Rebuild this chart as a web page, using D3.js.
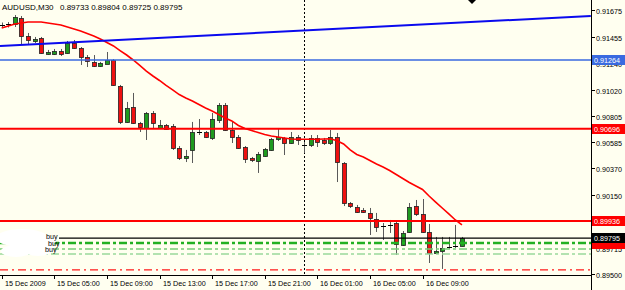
<!DOCTYPE html>
<html>
<head>
<meta charset="utf-8">
<script src="https://cdn.jsdelivr.net/npm/d3@7"></script>
<style>
  body { margin: 0; background: #fffff0; }
  svg { display: block; }
  text { font-family: "Liberation Sans", Arial, sans-serif; font-size: 8px; }
</style>
</head>
<body>
<div id="chart"></div>
<script>
// AUDUSD M30 candles (bar 0 = 15 Dec 01:00)
var symbol = 'AUDUSD,M30';
var lastBar = [0.89733, 0.89804, 0.89725, 0.89795];

var opens = [0.91553, 0.91553, 0.91561, 0.91611, 0.91462, 0.91417, 0.91446, 0.91314, 0.91314, 0.91338,
  0.91322, 0.91404, 0.91363, 0.91285, 0.91248, 0.91214, 0.91239, 0.91264, 0.91050, 0.90753,
  0.90876, 0.90744, 0.90703, 0.90827, 0.90703, 0.90728, 0.90720, 0.90538, 0.90455, 0.90522,
  0.90666, 0.90670, 0.90620, 0.90769, 0.90893, 0.90687, 0.90629, 0.90546, 0.90455, 0.90431,
  0.90472, 0.90522, 0.90612, 0.90621, 0.90579, 0.90629, 0.90571, 0.90563, 0.90621, 0.90604,
  0.90579, 0.90629, 0.90414, 0.90084, 0.90051, 0.90027, 0.90002, 0.89952, 0.89903, 0.89911,
  0.89919, 0.89738, 0.89845, 0.90059, 0.89993, 0.89845, 0.89672, 0.89688, 0.89721, 0.89726,
  lastBar[0]];
var highs = [0.91573, 0.91577, 0.91635, 0.91627, 0.91487, 0.91454, 0.91454, 0.91347, 0.91355, 0.91355,
  0.91421, 0.91429, 0.91371, 0.91305, 0.91305, 0.91248, 0.91330, 0.91272, 0.91058, 0.90918,
  0.90992, 0.90753, 0.90835, 0.90843, 0.90769, 0.90736, 0.90736, 0.90554, 0.90522, 0.90753,
  0.90777, 0.90678, 0.90827, 0.90909, 0.90909, 0.90753, 0.90645, 0.90554, 0.90464, 0.90505,
  0.90538, 0.90621, 0.90703, 0.90629, 0.90670, 0.90645, 0.90587, 0.90645, 0.90645, 0.90621,
  0.90687, 0.90662, 0.90422, 0.90092, 0.90068, 0.90043, 0.90043, 0.90002, 0.89919, 0.89944,
  0.89928, 0.89853, 0.90084, 0.90109, 0.90117, 0.89911, 0.89804, 0.89804, 0.89804, 0.89903,
  lastBar[1]];
var lows = [0.91532, 0.91532, 0.91536, 0.91388, 0.91396, 0.91404, 0.91314, 0.91305, 0.91305, 0.91297,
  0.91314, 0.91355, 0.91223, 0.91206, 0.91206, 0.91206, 0.91231, 0.91050, 0.90736, 0.90744,
  0.90736, 0.90670, 0.90604, 0.90703, 0.90695, 0.90687, 0.90522, 0.90439, 0.90422, 0.90414,
  0.90645, 0.90620, 0.90604, 0.90744, 0.90678, 0.90579, 0.90530, 0.90414, 0.90422, 0.90332,
  0.90464, 0.90513, 0.90596, 0.90480, 0.90571, 0.90563, 0.90497, 0.90546, 0.90546, 0.90563,
  0.90563, 0.90257, 0.90059, 0.90043, 0.90002, 0.90002, 0.89820, 0.89845, 0.89779, 0.89837,
  0.89655, 0.89730, 0.89837, 0.89977, 0.89837, 0.89589, 0.89664, 0.89540, 0.89705, 0.89713,
  lastBar[2]];
var closes = [0.91549, 0.91557, 0.91619, 0.91462, 0.91429, 0.91437, 0.91322, 0.91330, 0.91338, 0.91314,
  0.91404, 0.91363, 0.91289, 0.91252, 0.91214, 0.91239, 0.91268, 0.91058, 0.90753, 0.90868,
  0.90744, 0.90707, 0.90827, 0.90744, 0.90728, 0.90695, 0.90538, 0.90455, 0.90472, 0.90670,
  0.90670, 0.90629, 0.90777, 0.90893, 0.90687, 0.90629, 0.90538, 0.90447, 0.90435, 0.90489,
  0.90530, 0.90612, 0.90625, 0.90579, 0.90629, 0.90604, 0.90563, 0.90621, 0.90592, 0.90579,
  0.90629, 0.90422, 0.90084, 0.90059, 0.90010, 0.90010, 0.89960, 0.89886, 0.89895, 0.89903,
  0.89746, 0.89837, 0.90051, 0.89993, 0.89845, 0.89672, 0.89688, 0.89713, 0.89719, 0.89730,
  lastBar[3]];

// moving average (red curve)
var maValues = [0.91528, 0.91545, 0.91561, 0.91569, 0.91578, 0.91578, 0.91578, 0.91569, 0.91561, 0.91553,
  0.91536, 0.91520, 0.91503, 0.91483, 0.91462, 0.91437, 0.91408, 0.91380, 0.91342, 0.91305,
  0.91264, 0.91219, 0.91173, 0.91132, 0.91095, 0.91054, 0.91017, 0.90979, 0.90951, 0.90926,
  0.90897, 0.90868, 0.90843, 0.90814, 0.90786, 0.90761, 0.90724, 0.90699, 0.90682, 0.90666,
  0.90649, 0.90637, 0.90629, 0.90621, 0.90612, 0.90610, 0.90610, 0.90610, 0.90610, 0.90612,
  0.90614, 0.90598, 0.90571, 0.90522, 0.90484, 0.90464, 0.90435, 0.90406, 0.90381, 0.90352,
  0.90319, 0.90286, 0.90253, 0.90224, 0.90196, 0.90142, 0.90092, 0.90043, 0.89994, 0.89944,
  0.89903];

var timeLabels = ['15 Dec 2009', '15 Dec 05:00', '15 Dec 09:00', '15 Dec 13:00', '15 Dec 17:00',
  '15 Dec 21:00', '16 Dec 01:00', '16 Dec 05:00', '16 Dec 09:00'];
var timeLabelBars = [0, 8, 16, 24, 32, 40, 48, 56, 64];
// 0.89935 sits under the red price box, so it is not printed
var priceTicks = [0.91675, 0.91455, 0.91240, 0.91020, 0.90805, 0.90585, 0.90370, 0.90150, 0.89715, 0.89500];
var daySeparatorBar = 46;

// objects on the chart
var trendBars = [-0.26, 89.6];
var trendPrices = [0.91380, 0.91627];
var supportLevel = 0.91264;
var resistanceLevels = [0.90696, 0.89936];
var bidPrice = 0.89795;
var buyLevels = [0.89754, 0.89705, 0.89663];
var stopLevel = 0.89532;
var hiddenLabelPrice = 0.89742;

var width = 625, height = 290;
var plotRight = 591, plotBottom = 275;

var svg = d3.select('#chart').append('svg')
  .attr('width', width)
  .attr('height', height);

svg.append('rect').attr('width', width).attr('height', height).attr('fill', '#fffff0');

var x = d3.scaleLinear().domain([0, 70]).range([1.7, 461.95]);
var y = d3.scaleLinear().domain([0.89490, 0.91759]).range([plotBottom, 0]);

function txt(tx, ty, str, color, sx) {
  return svg.append('text')
    .attr('transform', 'translate(' + tx + ',' + ty + ') scale(' + (sx || 0.9) + ',1)')
    .attr('fill', color || '#000')
    .text(str);
}

//day separator
var sepX = Math.round(x(daySeparatorBar)) + 0.5;
svg.append('line')
  .attr('x1', sepX).attr('x2', sepX).attr('y1', 0).attr('y2', plotBottom)
  .attr('stroke', '#000').attr('stroke-dasharray', '2,2');

//candles
var bars = d3.range(opens.length).map(function(i) {
  return { i: i, o: opens[i], h: highs[i], l: lows[i], c: closes[i] };
});
var candle = svg.append('g').selectAll('g').data(bars).join('g');
candle.append('line')
  .attr('x1', d => Math.round(x(d.i)) + 0.5)
  .attr('x2', d => Math.round(x(d.i)) + 0.5)
  .attr('y1', d => y(d.h))
  .attr('y2', d => y(d.l))
  .attr('stroke', '#5a5a5a');
candle.filter(d => Math.abs(y(d.o) - y(d.c)) < 1.5)
  .append('line')
  .attr('x1', d => Math.round(x(d.i)) - 2)
  .attr('x2', d => Math.round(x(d.i)) + 3)
  .attr('y1', d => Math.round(y(d.c)) + 0.5)
  .attr('y2', d => Math.round(y(d.c)) + 0.5)
  .attr('stroke', '#000');
candle.filter(d => Math.abs(y(d.o) - y(d.c)) >= 1.5)
  .append('rect')
  .attr('x', d => Math.round(x(d.i)) - 1.5)
  .attr('width', 4)
  .attr('y', d => Math.round(Math.min(y(d.o), y(d.c))) + 0.5)
  .attr('height', d => Math.round(Math.abs(y(d.o) - y(d.c))))
  .attr('fill', d => d.c > d.o ? '#1f9a1f' : '#ee1111')
  .attr('stroke', '#222')
  .attr('stroke-width', 0.8);

//moving average
svg.append('path')
  .datum(maValues)
  .attr('fill', 'none')
  .attr('stroke', '#ff0000')
  .attr('stroke-width', 1.6)
  .attr('d', d3.line().x((d, i) => x(i)).y(d => y(d)));

//trend line
svg.append('line')
  .attr('x1', x(trendBars[0])).attr('y1', y(trendPrices[0]))
  .attr('x2', x(trendBars[1])).attr('y2', y(trendPrices[1]))
  .attr('stroke', '#0a0aee').attr('stroke-width', 2);

//horizontal levels
function hline(p, color, w, dash, x0) {
  svg.append('line')
    .attr('x1', x0 || 0).attr('x2', plotRight)
    .attr('y1', y(p)).attr('y2', y(p))
    .attr('stroke', color).attr('stroke-width', w)
    .attr('stroke-dasharray', dash || null);
}
hline(supportLevel, '#3a6ae0', 1.6);
resistanceLevels.forEach(p => hline(p, '#ff0000', 2));
hline(buyLevels[0], '#22b022', 2.6, '8,3,3,3');
hline(buyLevels[1], '#77cc77', 1.4, '8,3,3,3');
hline(buyLevels[2], '#9ad99a', 1.4, '8,3,3,3');
hline(stopLevel, '#ff1a1a', 1.2, '8,4,2,4');

//smudge over the left part of the trade lines
var blob = [[22, 238, 26, 9], [38, 248, 16, 8], [16, 251, 15, 6], [46, 241, 10, 5]];
blob.forEach(function(b) {
  svg.append('ellipse').attr('cx', b[0]).attr('cy', b[1]).attr('rx', b[2]).attr('ry', b[3]).attr('fill', '#ffffff');
});
hline(bidPrice, '#000', 1.2, null, 59);
txt(46, 239, 'buy');
txt(48, 246, 'buy');
txt(45, 252, 'buy');

//frame
svg.append('line').attr('x1', plotRight + 0.5).attr('x2', plotRight + 0.5)
  .attr('y1', 0).attr('y2', height).attr('stroke', '#000');
svg.append('line').attr('x1', 0).attr('x2', plotRight)
  .attr('y1', plotBottom + 0.5).attr('y2', plotBottom + 0.5).attr('stroke', '#000');

//price axis
priceTicks.forEach(function(p) {
  var py = Math.round(y(p)) + 0.5;
  svg.append('line').attr('x1', plotRight).attr('x2', plotRight + 4)
    .attr('y1', py).attr('y2', py).attr('stroke', '#000');
  txt(596, py + 3, p.toFixed(5));
});

function priceBox(p, color, label) {
  var py = Math.round(y(p));
  svg.append('rect').attr('x', 592).attr('y', py - 5).attr('width', 33).attr('height', 10).attr('fill', color);
  if (label) txt(594, py + 3, p.toFixed(5), '#fff');
}
priceBox(supportLevel, '#3a6ae0', true);
priceBox(resistanceLevels[0], '#ff0000', true);
priceBox(resistanceLevels[1], '#ff0000', true);
priceBox(hiddenLabelPrice, '#ff0000', false);
priceBox(bidPrice, '#000', true);

//time axis
timeLabelBars.forEach(function(b, k) {
  var tx = Math.round(x(b)) + 0.5;
  svg.append('line').attr('x1', tx).attr('x2', tx)
    .attr('y1', plotBottom).attr('y2', plotBottom + 4).attr('stroke', '#000');
  txt(tx + 2.5, 286, timeLabels[k]);
});

//title
txt(2, 9.5, symbol, '#000', 1);
txt(60, 9.5, lastBar.map(v => v.toFixed(5)).join(' '), '#000', 1);

//chart shift marker
svg.append('path').attr('d', 'M468,0 L476,0 L472,4 Z').attr('fill', '#000');
</script>
</body>
</html>
